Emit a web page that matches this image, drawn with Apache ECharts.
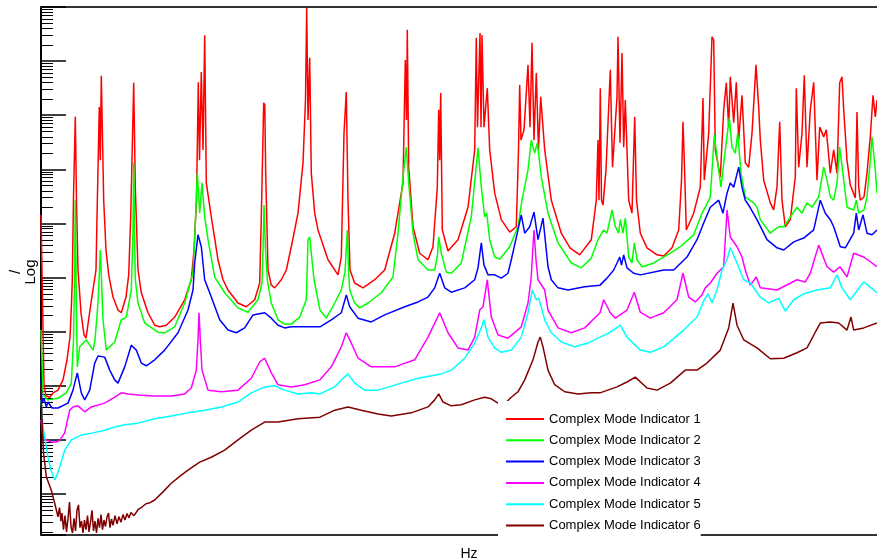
<!DOCTYPE html>
<html>
<head>
<meta charset="utf-8">
<script src="https://cdn.jsdelivr.net/npm/echarts@6/dist/echarts.min.js"></script>
<style>
  html, body { margin: 0; padding: 0; background: #fff; }
  #chart { width: 877px; height: 560px; }
</style>
</head>
<body>
<div id="chart"></div>
<script>
// frequency (Hz) and log10 magnitude pairs
var names = ['Complex Mode Indicator 1', 'Complex Mode Indicator 2', 'Complex Mode Indicator 3',
  'Complex Mode Indicator 4', 'Complex Mode Indicator 5', 'Complex Mode Indicator 6']
var colors = ['#ff0000', '#00ff00', '#0000ff', '#ff00ff', '#00ffff', '#800000']

var cmi1 = [[0,1.16],[1.5,-0.41],[3,-1.98],[5,-2.19],[9,-2.21],[12,-2.13],[17,-2.08],[22,-1.89],[26,-1.52],[29,-1.10],[30.5,-0.47],[31.3,-0.04],[32.5,1.49],[34.3,2.97],[35.5,1.43],[37,0.14],[40,-0.65],[43,-1.06],[45,-1.12],[50,-0.47],[55,0.14],[56,1.12],[58.3,3.15],[59.3,2.17],[60.3,3.73],[62.7,1.43],[65,0.51],[67.7,0.05],[72,-0.36],[77,-0.60],[80.3,-0.65],[85,-0.36],[87.7,0.05],[89.7,1.12],[92.7,3.60],[94.3,1.67],[97,0.14],[100.3,-0.28],[107,-0.65],[113.7,-0.88],[118.7,-0.91],[125.3,-0.88],[133.7,-0.73],[143.7,-0.41],[150.3,-0.04],[153,0.51],[155.5,1.43],[157.3,3.61],[158.5,2.17],[160.3,3.80],[162,2.36],[163.7,4.48],[165.3,1.75],[170.3,1.12],[177,0.33],[182,-0.04],[187,-0.23],[197,-0.47],[205.3,-0.54],[213.7,-0.41],[218.7,-0.10],[220.3,1.12],[222.7,3.23],[223.8,3.19],[224.7,1.93],[227,0.14],[230.3,-0.14],[233.7,-0.19],[240.3,-0.04],[245.3,0.14],[250.3,0.57],[257,1.19],[262,2.12],[264.5,3.28],[265.7,4.98],[267,2.91],[268.7,4.06],[270.3,1.93],[273.7,1.19],[277,0.88],[287,0.33],[297,0.05],[299,0.03],[300.3,0.38],[303,2.67],[305.3,3.43],[307,1.43],[309,0.14],[313.7,-0.10],[322,-0.19],[333.7,-0.04],[343.7,0.14],[353.7,0.82],[362,1.75],[364.3,4.02],[365.5,2.91],[366.3,4.58],[367.7,2.04],[372,0.94],[378.7,0.45],[387,0.33],[392,0.57],[396.3,1.67],[397.7,3.10],[398.7,2.17],[399.7,3.41],[401.3,0.88],[407,0.49],[417,0.70],[427,1.30],[433.7,2.36],[435.3,4.43],[436.5,2.78],[439,4.52],[440,2.78],[441,4.48],[443,2.78],[446.3,3.50],[448.7,2.36],[453.7,1.56],[460.3,1.07],[468.7,0.84],[475.3,0.94],[477.5,2.36],[478.7,3.56],[480,2.54],[483,2.73],[487,3.93],[489,2.78],[491,4.34],[493,2.54],[495.3,3.78],[497.5,2.36],[499.7,3.34],[503.7,2.36],[510.3,1.43],[520.3,0.82],[529,0.55],[538.7,0.42],[550.3,0.70],[555.3,1.43],[557,2.54],[558,1.43],[559.3,3.50],[560.5,1.43],[562,1.34],[565,1.99],[569.3,3.84],[571.5,2.04],[576,3.34],[577,4.45],[579,2.49],[581,4.15],[582.7,2.41],[584.3,3.28],[587.7,1.43],[591,1.19],[593.7,2.97],[595.5,1.43],[599.3,0.82],[606,0.55],[616,0.42],[622.7,0.40],[631,0.55],[637.7,0.88],[640.5,1.80],[642,2.88],[643.5,2.04],[645.3,0.88],[652.7,1.19],[659.3,1.67],[662,3.32],[663.3,1.80],[667.7,2.67],[671,4.45],[672.7,4.39],[674.3,2.36],[679.3,1.86],[682.7,3.10],[685.3,3.60],[687.7,2.78],[689.3,3.71],[692.7,2.86],[695.3,3.61],[697.7,2.54],[701,3.37],[704.3,2.12],[707.7,2.04],[711,2.67],[715,3.93],[717.7,3.15],[719.3,2.54],[722.7,1.80],[729.3,1.38],[732.7,1.25],[736,1.67],[738.7,2.88],[741,1.43],[744.3,0.94],[749.3,1.07],[754.3,1.86],[755.3,3.50],[757.7,2.04],[761,2.67],[763.3,3.74],[766,2.04],[769.3,3.10],[772.7,3.61],[776,1.80],[778.7,2.78],[782.7,2.60],[785.3,2.73],[789.3,1.93],[792.7,2.36],[796,1.93],[798.7,3.60],[801,3.71],[802.7,3.10],[806,2.17],[809.3,1.71],[814.3,1.47],[816,3.06],[817.7,1.67],[819.3,1.43],[823,1.49],[826,1.93],[829.3,2.60],[832,3.37],[834.3,2.97],[836,3.28]]

var cmi2 = [[0,-0.97],[2,-2.17],[7,-2.26],[17,-2.23],[25.3,-2.13],[30.3,-1.95],[32.5,-1.15],[33.5,-0.04],[34.3,1.43],[35.3,-0.41],[36.3,-1.65],[38.7,-1.28],[45.3,-1.15],[52,-1.34],[54,-1.15],[57,-0.47],[58.5,0.14],[59.3,0.51],[60.5,-0.04],[62,-0.78],[65.3,-1.34],[67,-1.36],[73.7,-1.19],[80.3,-0.78],[85.3,-0.73],[90.3,-0.23],[92,0.88],[92.7,2.12],[93.5,0.88],[94.3,-0.04],[97,-0.47],[103.7,-0.84],[117,-1.01],[123.7,-1.02],[133.7,-0.91],[143.7,-0.47],[152,0.09],[153.7,0.70],[156.3,1.93],[158.7,1.19],[161,1.75],[163.7,1.12],[167,0.70],[173.7,0.01],[183.7,-0.28],[197,-0.56],[207,-0.64],[217,-0.41],[221,-0.10],[222,0.51],[223,1.34],[224.5,0.51],[226.3,-0.04],[230.3,-0.47],[237,-0.78],[243.7,-0.86],[250.3,-0.86],[258.7,-0.73],[265.3,-0.41],[267,0.70],[268.7,0.75],[270.5,0.42],[273,-0.04],[279,-0.60],[285.3,-0.75],[293.7,-0.47],[300.3,-0.23],[304,0.10],[306.3,0.88],[307.5,0.14],[308.7,-0.23],[313.7,-0.47],[318.7,-0.56],[327,-0.47],[340.3,-0.28],[352,0.01],[357,0.82],[362,1.86],[365.3,2.41],[367.7,1.75],[372,0.82],[377,0.33],[387,0.14],[393.7,0.14],[396.5,0.42],[397.7,0.75],[400.3,0.45],[405.3,0.10],[410.3,0.08],[420.3,0.27],[430.3,1.12],[437,2.40],[440.3,1.67],[443.7,1.12],[445.7,1.19],[448.7,0.70],[453.7,0.38],[458.7,0.34],[468.7,0.57],[477,0.94],[481,1.43],[487,1.99],[490.3,2.54],[493.7,2.30],[496.3,2.49],[500.3,1.86],[507,1.19],[517,0.64],[530.3,0.27],[540.3,0.18],[550.3,0.36],[557,0.70],[562.7,0.88],[566,0.82],[571,1.25],[574.3,0.94],[577.7,0.82],[579.3,1.07],[582,0.82],[584.3,1.10],[587.7,0.38],[591,0.27],[593.3,0.64],[596,0.33],[601,0.20],[612.7,0.27],[629.3,0.45],[639.3,0.57],[652.7,0.79],[661,1.19],[664.3,1.30],[669.3,1.49],[673.3,2.64],[677.7,1.99],[680,1.67],[684.3,2.36],[688.3,2.95],[691,2.41],[694.3,2.30],[696.7,2.67],[700,1.93],[704.3,1.49],[712.7,1.38],[716,1.30],[719.3,1.07],[729.3,0.82],[737.7,0.94],[743,0.94],[749.3,1.12],[756,1.30],[761,1.19],[766,1.38],[771,1.30],[777.7,1.49],[782.7,2.04],[786,1.80],[789.3,1.49],[792.7,1.43],[796,1.75],[798.7,2.41],[802.7,1.80],[806,1.30],[812.7,1.25],[815.3,1.43],[817.7,1.19],[823,1.25],[826,1.49],[829.3,2.17],[831,2.60],[834.3,1.99],[836,1.56]]

var cmi3 = [[0,-1.89],[1,-2.32],[3,-2.23],[5.3,-2.39],[7,-2.30],[11,-2.41],[17,-2.41],[27,-2.32],[32,-2.08],[36.3,-1.76],[40.3,-2.13],[43.7,-2.26],[48.7,-2.08],[53.7,-1.58],[57,-1.45],[63.7,-1.47],[68.7,-1.71],[73.7,-1.89],[77,-1.95],[83.7,-1.65],[90.3,-1.25],[95.3,-1.34],[100.3,-1.58],[105.3,-1.63],[113.7,-1.52],[123.7,-1.34],[137,-1.02],[147,-0.60],[152,-0.23],[153.7,0.27],[157,0.79],[160.3,0.57],[163.7,-0.04],[170.3,-0.36],[178.7,-0.78],[187,-0.97],[195.3,-1.02],[203.7,-0.93],[212,-0.69],[223.7,-0.65],[230.3,-0.75],[237,-0.88],[243.7,-0.93],[250.3,-0.91],[279,-0.91],[290.3,-0.78],[300.3,-0.65],[305.3,-0.32],[308.7,-0.54],[317,-0.75],[330.3,-0.82],[343.7,-0.69],[363.7,-0.54],[377,-0.45],[387,-0.36],[393.7,-0.19],[398.7,0.08],[403.7,-0.19],[410.3,-0.27],[423.7,-0.19],[433.7,-0.04],[437,0.18],[440.3,0.64],[443,0.23],[447,0.05],[453.7,0.05],[460.3,-0.01],[467,0.08],[470.3,0.33],[477,0.88],[480.3,1.16],[483.7,0.82],[488.7,0.94],[493,1.21],[497,0.70],[502,1.10],[507,0.20],[510.3,-0.04],[517,-0.19],[527,-0.23],[543.7,-0.17],[559,-0.14],[566,-0.01],[572.7,0.14],[576,0.27],[578.7,0.38],[580.5,0.23],[582.7,0.42],[586,0.18],[592.7,0.08],[599.3,0.05],[622.7,0.14],[632.7,0.14],[646,0.38],[656,0.70],[662.7,1.01],[669.3,1.30],[677.7,1.43],[682,1.19],[686,1.56],[689.3,1.75],[692.7,1.67],[697.7,2.04],[701,1.67],[704.3,1.43],[709.3,1.29],[716,1.07],[726,0.70],[736,0.55],[742.7,0.51],[752.7,0.66],[762.7,0.73],[772.7,0.88],[779.3,1.43],[784.3,1.19],[789.3,1.07],[792.7,0.94],[799.3,0.57],[804.3,0.55],[812.7,0.82],[815.3,1.19],[817.7,0.88],[822,1.16],[826,0.82],[831,0.79],[836,0.88]]

var cmi4 = [[0,-2.63],[2,-2.95],[5,-3.00],[11,-3.04],[15.3,-3.04],[19,-3.00],[23.7,-2.87],[28.7,-2.45],[32,-2.39],[37,-2.37],[43.7,-2.48],[50.3,-2.39],[63.7,-2.32],[73.7,-2.21],[80.3,-2.13],[87,-2.15],[97,-2.17],[113.7,-2.19],[130.3,-2.19],[143.7,-2.15],[150.3,-2.04],[155.3,-1.71],[157,-1.15],[158,-0.65],[159.3,-1.15],[161,-1.71],[167,-2.08],[180.3,-2.11],[197,-2.08],[210.3,-1.86],[218.7,-1.56],[223.7,-1.49],[230.3,-1.76],[237,-1.98],[250.3,-2.02],[263.7,-1.98],[279,-1.89],[290.3,-1.65],[300.3,-1.28],[305.3,-1.02],[310.3,-1.21],[317,-1.49],[330.3,-1.65],[353.7,-1.65],[373.7,-1.52],[387,-1.10],[398.7,-0.65],[407,-1.02],[417,-1.30],[427,-1.34],[433.7,-1.10],[438.7,-0.60],[442,-0.54],[446.3,-0.04],[450.3,-0.73],[457,-1.06],[467,-1.12],[480.3,-0.91],[487,-0.47],[490,-0.04],[493,0.88],[495,0.33],[497,-0.04],[503.7,-0.23],[507,-0.60],[517,-0.93],[530.3,-1.02],[543.7,-0.93],[559,-0.65],[562.7,-0.41],[569.3,-0.65],[574.3,-0.75],[586,-0.60],[593.3,-0.27],[599.3,-0.64],[609.3,-0.75],[622.7,-0.65],[636,-0.41],[642,0.08],[647.7,-0.36],[654.3,-0.45],[661,-0.32],[664.3,-0.19],[669.3,-0.10],[676,0.08],[682.7,0.20],[686,1.25],[689.3,0.75],[696,0.57],[701,0.38],[704.3,0.14],[709.3,-0.14],[715.3,0.01],[719.3,-0.19],[736,-0.23],[756,-0.04],[764.3,-0.08],[769.3,0.08],[777.7,0.60],[786,0.20],[792.7,0.10],[799,0.20],[806,0.01],[812.7,0.45],[822.7,0.38],[836,0.20]]

var cmi5 = [[0,-2.26],[2,-2.76],[7,-3.32],[10,-3.56],[13.7,-3.74],[16,-3.65],[18.7,-3.50],[23.7,-3.19],[30.3,-3.00],[40.3,-2.91],[52,-2.87],[63.7,-2.82],[73.7,-2.76],[83.7,-2.72],[97,-2.69],[113.7,-2.61],[130.3,-2.56],[147,-2.50],[163.7,-2.45],[180.3,-2.39],[197,-2.30],[210.3,-2.13],[223.7,-2.02],[233.7,-2.00],[243.7,-2.08],[257,-2.15],[270.3,-2.13],[279,-2.15],[293.7,-2.02],[302,-1.86],[307,-1.78],[313.7,-1.95],[323.7,-2.08],[337,-2.08],[360.3,-1.95],[377,-1.86],[400.3,-1.78],[410.3,-1.71],[423.7,-1.49],[433.7,-1.21],[440.3,-0.93],[443,-0.78],[447,-1.10],[453.7,-1.30],[460.3,-1.38],[470.3,-1.34],[480.3,-1.10],[487,-0.65],[491.3,-0.23],[495.3,-0.41],[497.7,-0.38],[503.7,-0.78],[510.3,-1.02],[520.3,-1.19],[533.7,-1.28],[547,-1.21],[559,-1.10],[569.3,-1.01],[579.3,-0.88],[586,-1.10],[599.3,-1.34],[609.3,-1.38],[622.7,-1.28],[642.7,-0.97],[656,-0.73],[663.3,-0.41],[667,-0.30],[671,-0.47],[676,-0.23],[681,0.14],[686,0.33],[689.3,0.55],[696,0.27],[702.7,-0.04],[709.3,-0.10],[719.3,-0.36],[727.7,-0.47],[737.7,-0.38],[744.3,-0.62],[752.7,-0.41],[762.7,-0.30],[776,-0.23],[789.3,-0.19],[796,0.05],[801,-0.19],[809.3,-0.41],[822.7,-0.08],[836,-0.28]]

var cmi6 = [[0,-1.98],[1,-2.63],[2.5,-3.24],[5.3,-3.68],[10.3,-3.93],[13.7,-4.17],[17,-4.42],[18.5,-4.25],[20,-4.50],[21,-4.35],[22.5,-4.66],[24,-4.40],[25.5,-4.70],[27,-4.45],[28.5,-4.15],[30,-4.60],[31.5,-4.72],[33,-4.45],[34.5,-4.68],[36,-4.30],[37.5,-4.20],[39,-4.62],[40.5,-4.50],[42,-4.72],[43.5,-4.48],[45,-4.66],[46.5,-4.40],[48,-4.70],[49.5,-4.52],[51,-4.30],[52.5,-4.68],[54,-4.50],[55.5,-4.72],[57,-4.45],[58.5,-4.62],[60,-4.38],[61.5,-4.66],[63,-4.48],[64.5,-4.60],[66,-4.42],[67.5,-4.35],[69,-4.62],[70.5,-4.46],[72,-4.58],[74,-4.40],[76,-4.55],[78,-4.42],[80,-4.52],[82,-4.38],[84,-4.48],[86,-4.36],[88,-4.44],[90,-4.34],[93,-4.40],[97,-4.29],[101,-4.24],[105,-4.18],[109,-4.16],[113.7,-4.11],[122,-3.96],[130.3,-3.80],[139,-3.67],[147,-3.56],[158.7,-3.41],[170.3,-3.32],[183.7,-3.19],[197,-3.00],[210.3,-2.82],[223.7,-2.67],[237,-2.67],[257,-2.61],[279,-2.58],[293.7,-2.45],[307,-2.39],[320.3,-2.45],[337,-2.52],[350.3,-2.56],[370.3,-2.50],[387,-2.39],[393.7,-2.26],[397.7,-2.15],[402,-2.30],[410.3,-2.37],[420.3,-2.35],[433.7,-2.26],[443.7,-2.21],[450.3,-2.24],[457,-2.32],[463,-2.35],[469.7,-2.22],[477,-2.11],[483.7,-1.89],[492,-1.52],[497,-1.19],[499.3,-1.10],[502,-1.28],[507,-1.71],[513.7,-1.98],[523.7,-2.11],[537,-2.15],[550.3,-2.13],[559,-2.13],[576,-2.02],[586,-1.93],[594.3,-1.84],[606,-2.04],[616,-2.08],[629.3,-1.95],[644.3,-1.71],[656,-1.71],[666,-1.58],[679.3,-1.34],[687.7,-0.93],[692,-0.47],[696,-0.88],[702.7,-1.15],[716,-1.30],[729.3,-1.50],[742.7,-1.49],[756,-1.39],[766,-1.30],[774.3,-1.01],[779.3,-0.84],[789.3,-0.82],[797.7,-0.84],[806,-0.97],[810,-0.73],[812.7,-0.97],[822.7,-0.93],[836,-0.84]]

var curves = [cmi1, cmi2, cmi3, cmi4, cmi5, cmi6]

var chart = echarts.init(document.getElementById('chart'), null, { renderer: 'canvas' })

var series = curves.map(function (pts, i) {
  return {
    name: names[i],
    type: 'line',
    symbol: 'none',
    animation: false,
    lineStyle: { color: colors[i], width: 1.5 },
    itemStyle: { color: colors[i] },
    data: pts.map(function (p) { return [p[0], Math.pow(10, p[1])] })
  }
})

chart.setOption({
  backgroundColor: '#fff',
  animation: false,
  grid: { left: 41, top: 7, bottom: 25, right: 0, outerBoundsMode: 'none', containLabel: false },
  legend: {
    orient: 'vertical',
    left: 498,
    top: 401,
    backgroundColor: '#fff',
    padding: [11, 0, 8, 8],
    icon: 'rect',
    itemWidth: 38,
    itemHeight: 2,
    itemGap: 7.3,
    textStyle: { fontFamily: 'Liberation Sans, Arial, sans-serif', fontSize: 13, lineHeight: 14, color: '#000' },
    data: names
  },
  xAxis: [{
    type: 'value',
    min: 0,
    max: 836,
    name: 'Hz',
    nameLocation: 'middle',
    nameGap: 12,
    nameTextStyle: { fontFamily: 'Liberation Sans, Arial, sans-serif', fontSize: 14, color: '#000', padding: [0, 0, 0, 20] },
    axisLine: { lineStyle: { color: '#333', width: 2 } },
    axisTick: { show: false },
    axisLabel: { show: false },
    splitLine: { show: false }
  }, {
    type: 'value',
    position: 'top',
    min: 0,
    max: 836,
    axisLine: { lineStyle: { color: '#333', width: 2 } },
    axisTick: { show: false },
    axisLabel: { show: false },
    splitLine: { show: false }
  }],
  yAxis: {
    type: 'log',
    logBase: 10,
    min: 1.75e-5,
    max: 1e5,
    splitNumber: 10,
    name: '/\nLog',
    nameLocation: 'middle',
    nameRotate: 90,
    nameGap: 3,
    nameTextStyle: { fontFamily: 'Liberation Sans, Arial, sans-serif', fontSize: 15, color: '#000', lineHeight: 15, padding: [0, 2, 0, 0] },
    axisLine: { lineStyle: { color: '#000', width: 2 } },
    axisTick: { inside: true, length: 25, lineStyle: { color: '#000', width: 1.5 } },
    minorTick: { show: true, splitNumber: 9, length: 12, lineStyle: { color: '#000', width: 1 } },
    axisLabel: { show: false },
    splitLine: { show: false },
    minorSplitLine: { show: false }
  },
  series: series
})
</script>
</body>
</html>
